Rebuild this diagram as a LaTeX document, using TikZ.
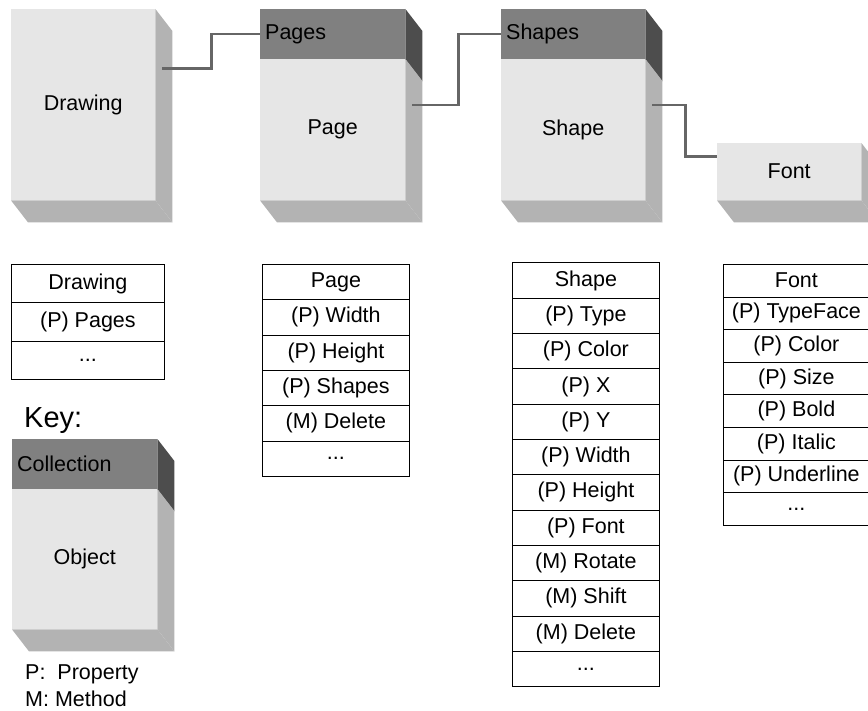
\documentclass[tikz,border=0pt]{standalone}
\usepackage{fontspec}
\setmainfont{Liberation Sans}
\usetikzlibrary{calc}

\definecolor{frontgray}{HTML}{E6E6E6}
\definecolor{sidegray}{HTML}{B3B3B3}
\definecolor{headgray}{HTML}{808080}
\definecolor{headside}{HTML}{4D4D4D}
\definecolor{linkgray}{HTML}{666666}

\newcommand\diafont{\fontsize{21.5}{25}\selectfont}
\newcommand\etcdots{...}

% extruded side face to the right of a node
\newcommand\sideface[2]{%
  \fill[#2] (#1.north east) -- ++(17,22) -- ($(#1.south east)+(17,22)$) -- (#1.south east) -- cycle;}
% extruded bottom face under a node
\newcommand\bottomface[1]{%
  \fill[sidegray] (#1.south west) -- ++(17,22) -- ($(#1.south east)+(17,22)$) -- (#1.south east) -- cycle;}

\tikzset{
  objface/.style={fill=frontgray, inner sep=0pt, anchor=north west, font=\diafont},
  collface/.style={fill=headgray, anchor=north west, inner xsep=5pt, inner ysep=0pt,
    text width=#1, align=left, minimum height=50pt, font=\diafont},
  conn/.style={draw=linkgray, line width=2.5pt},
  cell/.style={draw=black, line width=0.8pt, anchor=north west, inner sep=0pt, font=\diafont},
  plain/.style={anchor=west, inner sep=0pt, font=\diafont}
}

\begin{document}
\begin{tikzpicture}[x=1pt, y=-1pt]
\useasboundingbox (0,0) rectangle (868,711);
\clip (0,0) rectangle (868,711);

% ---- Drawing object
\node[objface, minimum width=144pt, minimum height=191pt] (drawing) at (11,9) {Drawing};
\sideface{drawing}{sidegray}
\bottomface{drawing}

% ---- Pages collection / Page object
\node[collface=135pt] (pages) at (260,9) {Pages};
\node[objface, minimum width=145pt, minimum height=141pt] (page) at (260,59) {Page};
\sideface{pages}{headside}
\sideface{page}{sidegray}
\bottomface{page}

% ---- Shapes collection / Shape object
\node[collface=134pt] (shapes) at (501,9) {Shapes};
\node[objface, minimum width=144pt, minimum height=141pt] (shape) at (501,59) {Shape};
\sideface{shapes}{headside}
\sideface{shape}{sidegray}
\bottomface{shape}

% ---- Font object
\node[objface, minimum width=144pt, minimum height=57pt] (font) at (717,143) {Font};
\sideface{font}{sidegray}
\bottomface{font}

% ---- connectors
\draw[conn] ([shift={(7,-36)}]drawing.east) -- ++(49,0) |- (pages.west);
\draw[conn] ([shift={(7,-24.5)}]page.east) -- ++(46,0) |- (shapes.west);
\draw[conn] ([shift={(7,-24.5)}]shape.east) -- ++(33,0) |- ([shift={(0,-15)}]font.west);

% ---- member tables
\foreach \t [count=\i] in {Drawing,(P) Pages,\etcdots}
  \node[cell, minimum width=153pt, minimum height=38.5pt] (tdrawing-\i) at (11,{264+38.5*(\i-1)}) {\t};

\foreach \t [count=\i] in {Page,(P) Width,(P) Height,(P) Shapes,(M) Delete,\etcdots}
  \node[cell, minimum width=147pt, minimum height=35.3pt] (tpage-\i) at (262,{264+35.3*(\i-1)}) {\t};

\foreach \t [count=\i] in {Shape,(P) Type,(P) Color,(P) X,(P) Y,(P) Width,(P) Height,(P) Font,(M) Rotate,(M) Shift,(M) Delete,\etcdots}
  \node[cell, minimum width=147pt, minimum height=35.3pt] (tshape-\i) at (512,{262.5+35.3*(\i-1)}) {\t};

\foreach \t [count=\i] in {Font,(P) TypeFace,(P) Color,(P) Size,(P) Bold,(P) Italic,(P) Underline,\etcdots}
  \node[cell, minimum width=146pt, minimum height=32.6pt] (tfont-\i) at (723,{264+32.6*(\i-1)}) {\t};

% ---- key
\node[plain, font=\fontsize{29}{32}\selectfont] (keytitle) at (24,421) {Key:};
\node[collface=135pt] (keycoll) at (12,439) {Collection};
\node[objface, minimum width=145pt, minimum height=140pt] (keyobj) at (12,489) {Object};
\sideface{keycoll}{headside}
\sideface{keyobj}{sidegray}
\bottomface{keyobj}

\node[plain] (keyp) at (25,674) {P:\ \ Property};
\node[plain] (keym) at (25,699) {M: Method};
\end{tikzpicture}
\end{document}
